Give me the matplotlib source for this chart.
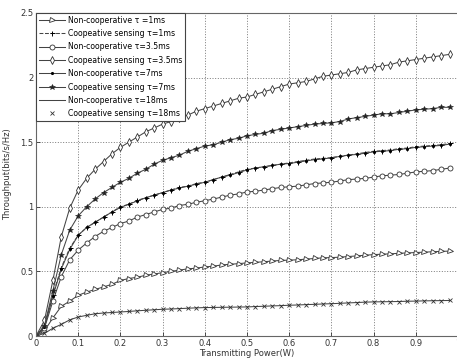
import numpy as np
import matplotlib
matplotlib.use('Agg')
import matplotlib.pyplot as plt

# transmitting power grid (W)
power = np.arange(50) * 0.02

# throughput values (bits/s/Hz)
noncoop_1 = [0, 0.04, 0.14, 0.23, 0.27, 0.315, 0.34, 0.36, 0.38, 0.40,
             0.43, 0.445, 0.455, 0.47, 0.48, 0.49, 0.50, 0.51, 0.52, 0.525,
             0.535, 0.54, 0.55, 0.555, 0.56, 0.566, 0.57, 0.575, 0.58, 0.585,
             0.587, 0.59, 0.595, 0.60, 0.605, 0.607, 0.61, 0.615, 0.62, 0.625,
             0.63, 0.633, 0.636, 0.64, 0.643, 0.646, 0.649, 0.652, 0.655, 0.657]
coop_1 = [0, 0.07, 0.32, 0.53, 0.68, 0.78, 0.84, 0.88, 0.92, 0.96,
          1.00, 1.02, 1.05, 1.07, 1.09, 1.11, 1.13, 1.15, 1.16, 1.18,
          1.19, 1.21, 1.23, 1.25, 1.27, 1.29, 1.30, 1.31, 1.32, 1.33,
          1.34, 1.35, 1.36, 1.37, 1.375, 1.38, 1.39, 1.40, 1.41, 1.42,
          1.43, 1.435, 1.44, 1.45, 1.455, 1.465, 1.47, 1.475, 1.48, 1.49]
noncoop_35 = [0, 0.06, 0.27, 0.46, 0.59, 0.665, 0.72, 0.77, 0.81, 0.84,
              0.87, 0.89, 0.92, 0.94, 0.96, 0.98, 0.99, 1.01, 1.02, 1.035,
              1.047, 1.06, 1.075, 1.09, 1.10, 1.115, 1.12, 1.13, 1.14, 1.15,
              1.155, 1.16, 1.17, 1.18, 1.185, 1.19, 1.20, 1.21, 1.215, 1.22,
              1.23, 1.24, 1.245, 1.25, 1.26, 1.27, 1.275, 1.28, 1.29, 1.30]
coop_35 = [0, 0.12, 0.43, 0.77, 0.99, 1.13, 1.22, 1.29, 1.35, 1.41,
           1.46, 1.50, 1.54, 1.58, 1.61, 1.64, 1.66, 1.69, 1.71, 1.74,
           1.76, 1.78, 1.80, 1.82, 1.84, 1.85, 1.87, 1.89, 1.91, 1.93,
           1.95, 1.96, 1.97, 1.99, 2.01, 2.02, 2.03, 2.04, 2.06, 2.07,
           2.08, 2.09, 2.10, 2.12, 2.13, 2.14, 2.15, 2.16, 2.17, 2.18]
noncoop_7 = [0, 0.07, 0.31, 0.52, 0.67, 0.78, 0.84, 0.88, 0.92, 0.96,
             0.995, 1.02, 1.045, 1.07, 1.09, 1.11, 1.13, 1.145, 1.16, 1.175,
             1.19, 1.21, 1.23, 1.245, 1.265, 1.285, 1.30, 1.31, 1.32, 1.33,
             1.335, 1.345, 1.355, 1.365, 1.37, 1.38, 1.39, 1.40, 1.405, 1.415,
             1.425, 1.43, 1.435, 1.445, 1.45, 1.46, 1.465, 1.47, 1.475, 1.485]
coop_7 = [0, 0.08, 0.35, 0.63, 0.82, 0.93, 1.00, 1.06, 1.11, 1.15,
          1.19, 1.22, 1.26, 1.29, 1.33, 1.36, 1.38, 1.40, 1.43, 1.45,
          1.47, 1.48, 1.50, 1.52, 1.53, 1.55, 1.56, 1.57, 1.59, 1.60,
          1.61, 1.62, 1.63, 1.64, 1.645, 1.65, 1.66, 1.68, 1.69, 1.70,
          1.71, 1.72, 1.72, 1.73, 1.74, 1.75, 1.755, 1.76, 1.77, 1.77]
noncoop_18 = [0, 0.02, 0.06, 0.09, 0.125, 0.147, 0.16, 0.172, 0.178, 0.182,
              0.186, 0.19, 0.195, 0.199, 0.203, 0.207, 0.209, 0.212, 0.215, 0.218,
              0.22, 0.221, 0.222, 0.223, 0.224, 0.225, 0.228, 0.23, 0.233, 0.235,
              0.238, 0.24, 0.243, 0.245, 0.248, 0.25, 0.253, 0.256, 0.259, 0.262,
              0.264, 0.265, 0.266, 0.267, 0.269, 0.27, 0.272, 0.273, 0.274, 0.275]
coop_18 = [0, 0.02, 0.06, 0.09, 0.125, 0.147, 0.16, 0.172, 0.178, 0.182,
           0.186, 0.19, 0.195, 0.199, 0.203, 0.207, 0.209, 0.212, 0.215, 0.218,
           0.22, 0.221, 0.222, 0.223, 0.224, 0.225, 0.228, 0.23, 0.233, 0.235,
           0.238, 0.24, 0.243, 0.245, 0.248, 0.25, 0.253, 0.256, 0.259, 0.262,
           0.264, 0.265, 0.266, 0.267, 0.269, 0.27, 0.272, 0.273, 0.274, 0.275]

labels = ['Non-cooperative \u03c4 =1ms', 'Coopeative sensing \u03c4=1ms',
          'Non-cooperative \u03c4=3.5ms', 'Coopeative sensing \u03c4=3.5ms',
          'Non-cooperative \u03c4=7ms', 'Coopeative sensing \u03c4=7ms',
          'Non-cooperative \u03c4=18ms', 'Coopeative sensing \u03c4=18ms']

xticks = [0, 0.1, 0.2, 0.3, 0.4, 0.5, 0.6, 0.7, 0.8, 0.9, 1]
xticklabels = ['0', '0.1', '0.2', '0.3', '0.4', '0.5', '0.6', '0.7', '0.8', '0.9', '1']
yticks = [0, 0.5, 1, 1.5, 2, 2.5]
yticklabels = ['0', '0.5', '1', '1.5', '2', '2.5']

fig = plt.figure(figsize=(4.57, 3.6), dpi=100)
ax = fig.add_axes([36 / 457, 24 / 360, 422 / 457, 323 / 360])

lc = '#444444'
lw = 0.75
ms = 3.6
ax.plot(power, noncoop_1, '-', color=lc, lw=lw, marker='>', ms=ms, mfc='white', mec='#333333', mew=0.6, label=labels[0])
ax.plot(power, coop_1, '--', color=lc, lw=lw, marker='+', ms=ms, mec='black', mew=0.7, label=labels[1])
ax.plot(power, noncoop_35, '-', color=lc, lw=lw, marker='o', ms=ms, mfc='white', mec='#333333', mew=0.6, label=labels[2])
ax.plot(power, coop_35, '-', color=lc, lw=lw, marker='d', ms=ms + 0.6, mfc='white', mec='#333333', mew=0.6, label=labels[3])
ax.plot(power, noncoop_7, '-', color=lc, lw=lw, marker='.', ms=2.5, mfc='black', mec='black', label=labels[4])
ax.plot(power, coop_7, '-', color=lc, lw=lw, marker='*', ms=ms + 0.6, mfc='#222222', mec='#222222', mew=0.4, label=labels[5])
ax.plot(power, noncoop_18, '-', color=lc, lw=lw, label=labels[6])
ax.plot(power, coop_18, 'x', color='#333333', ms=2.5, mew=0.6, label=labels[7])

ax.set_xlim(0, 1)
ax.set_ylim(0, 2.5)
ax.set_xticks(xticks)
ax.set_xticklabels(xticklabels)
ax.set_yticks(yticks)
ax.set_yticklabels(yticklabels)
ax.tick_params(direction='in', labelsize=6, length=3, width=0.6, colors='#333333', pad=2)
ax.grid(True, linestyle=(0, (1.2, 2)), color='#666666', linewidth=0.6)
for s in ax.spines.values():
    s.set_color('#666666')
    s.set_linewidth(0.8)

ax.set_xlabel('Transmitting Power(W)', fontsize=6, color='#333333', labelpad=1)
ax.set_ylabel('Throughput(bits/s/Hz)', fontsize=6, color='#333333', labelpad=6)

leg = ax.legend(loc='upper left', fontsize=5.6, frameon=True, fancybox=False,
                borderaxespad=0, handlelength=3.4, labelspacing=0.56,
                borderpad=0.35, handletextpad=0.3)
leg.get_frame().set_edgecolor('#444444')
leg.get_frame().set_linewidth(0.8)
leg.get_frame().set_alpha(1)

fig.savefig('out.png', dpi=100)
